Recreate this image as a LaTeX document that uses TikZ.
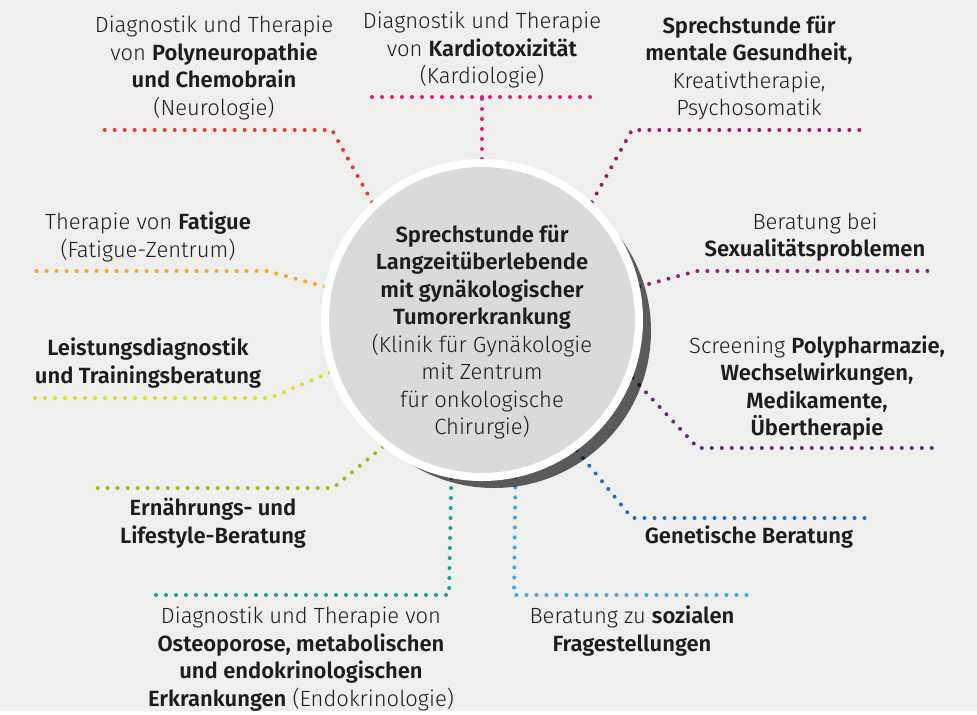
\documentclass[tikz,border=0pt]{standalone}
\usepackage{fontspec}
\setmainfont{Fira Sans}[UprightFont={* Light}, BoldFont={* SemiBold}]
\usepackage{xcolor}
\usepackage{tikz}
\usetikzlibrary{positioning}
\definecolor{bgGray}{HTML}{EFEFED}
\definecolor{hubGray}{HTML}{DADADA}
\definecolor{textDark}{HTML}{1D1D1B}
\definecolor{redNeuro}{HTML}{E8392F}
\definecolor{pinkKardio}{HTML}{E5197A}
\definecolor{plumMental}{HTML}{9B1D6C}
\definecolor{magentaSex}{HTML}{9C1B80}
\definecolor{purplePharma}{HTML}{6B2583}
\definecolor{blueGene}{HTML}{1F6EBE}
\definecolor{blueSocial}{HTML}{3BA9E1}
\definecolor{tealOsteo}{HTML}{12A29B}
\definecolor{greenFood}{HTML}{93C01F}
\definecolor{yellowSport}{HTML}{DDDF1A}
\definecolor{orangeFatigue}{HTML}{F7A823}
\tikzset{dot-line/.style={line width=4pt, line cap=round, dash pattern=on 0pt off 10pt}}
\tikzset{hub-node/.style={circle, minimum size=314pt, inner sep=0, line width=8pt}}
\tikzset{hub-shadow/.style={hub-node, fill=black, fill opacity=0.62}}
\tikzset{topic-label/.style={align=center, text=textDark, font=\fontsize{22}{27.5}\selectfont}}
\tikzset{hub-label/.style={topic-label}}
\newcommand{\branch}[5] {
    \coordinate (#1-bend) at #4;
    \coordinate (#1-end) at #5;
    \draw[dot-line, #2] (hub.#3) -- (#1-bend) -- (#1-end);
}
\begin{document}
\begin{tikzpicture}[x=1pt, y=-1pt]
    \fill[bgGray] (0,0) rectangle (977,711);
    \node[hub-node] (hub) at (482,320) {};

    \branch{neuro}{redNeuro}{133}{(332,130)}{(97,130)}
    \branch{mental}{plumMental}{47}{(632,130)}{(867,130)}
    \branch{sex}{magentaSex}{12}{(697,271)}{(933,271)}
    \branch{fatigue}{orangeFatigue}{168}{(267,271)}{(32,271)}
    \branch{sport}{yellowSport}{-161}{(270,398)}{(32,398)}
    \branch{pharma}{purplePharma}{-21}{(698,448)}{(933,448)}
    \branch{food}{greenFood}{-128}{(333,488)}{(97,488)}
    \branch{gene}{blueGene}{-54}{(632,518)}{(867,518)}
    \branch{osteo}{tealOsteo}{-101.8}{(449,595)}{(148,595)}
    \branch{social}{blueSocial}{-78.5}{(514,595)}{(750,595)}
    \branch{kardio}{pinkKardio}{90}{(482,97)}{(600,97)}
    \coordinate (kardio-start) at (363,97);
    \draw[dot-line, pinkKardio] (kardio-bend) -- (kardio-start);

    % shadow, then redraw the hub
    \node[hub-shadow, xshift=12pt, yshift=-11pt] (hubshadow) at (hub) {};
    \node[hub-node, draw=white, fill=hubGray] (hub) at (482,320) {};
    \node[hub-label] (hubtext) at (482,332) {\textbf{Sprechstunde für}\\\textbf{Langzeitüberlebende}\\\textbf{mit gynäkologischer}\\\textbf{Tumorerkrankung}\\(Klinik für Gynäkologie\\mit Zentrum\\für onkologische\\Chirurgie)};

    \node[topic-label] (neuro-text) at (214,68) {Diagnostik und Therapie\\von \textbf{Polyneuropathie}\\\textbf{und Chemobrain}\\(Neurologie)};
    \node[topic-label] (kardio-text) at (482,50) {Diagnostik und Therapie\\von \textbf{Kardiotoxizität}\\(Kardiologie)};
    \node[topic-label] (mental-text) at (749,68) {\textbf{Sprechstunde für}\\\textbf{mentale Gesundheit,}\\Kreativtherapie,\\Psychosomatik};
    \node[topic-label] (sex-text) at (815,237) {Beratung bei\\\textbf{Sexualitätsproblemen}};
    \node[topic-label] (fatigue-text) at (148,237) {Therapie von \textbf{Fatigue}\\(Fatigue-Zentrum)};
    \node[topic-label] (sport-text) at (148,363) {\textbf{Leistungsdiagnostik}\\\textbf{und Trainingsberatung}};
    \node[topic-label] (pharma-text) at (817,388) {Screening \textbf{Polypharmazie,}\\\textbf{Wechselwirkungen,}\\\textbf{Medikamente,}\\\textbf{Übertherapie}};
    \node[topic-label] (gene-text) at (749,537) {\textbf{Genetische Beratung}};
    \node[topic-label] (food-text) at (213,523) {\textbf{Ernährungs- und}\\\textbf{Lifestyle-Beratung}};
    \node[topic-label] (osteo-text) at (301,659) {Diagnostik und Therapie von\\\textbf{Osteoporose, metabolischen}\\\textbf{und endokrinologischen}\\\textbf{Erkrankungen} (Endokrinologie)};
    \node[topic-label] (social-text) at (632,631) {Beratung zu \textbf{sozialen}\\\textbf{Fragestellungen}};
\end{tikzpicture}
\end{document}
